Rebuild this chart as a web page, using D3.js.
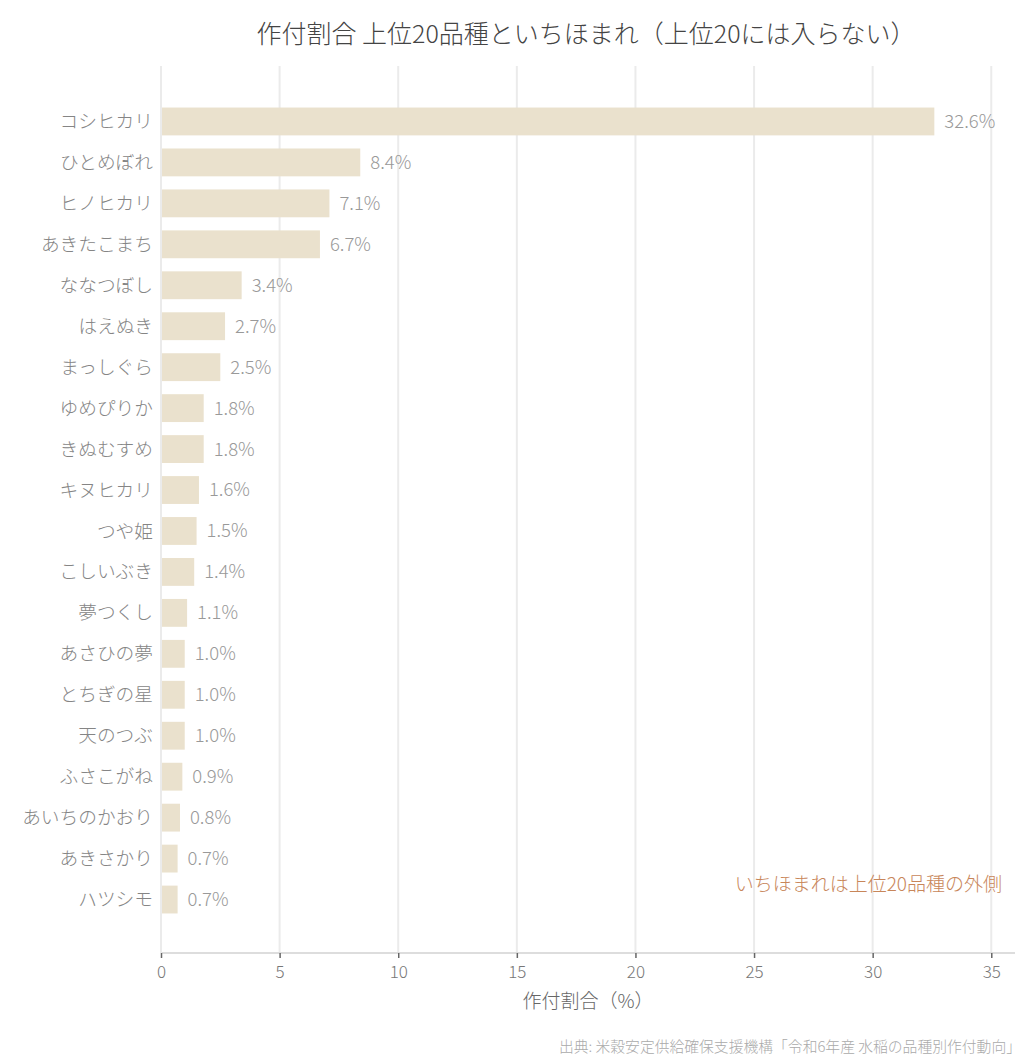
<!DOCTYPE html>
<html><head><meta charset="utf-8">
<script src="https://cdn.jsdelivr.net/npm/d3@7"></script>
<style>
body{margin:0;background:#fff;}
text{font-family:"Noto Sans CJK JP","Noto Sans",sans-serif;font-weight:300;}
</style></head>
<body><svg id="c" width="1036" height="1064"></svg>
<script>
const categories = ["コシヒカリ","ひとめぼれ","ヒノヒカリ","あきたこまち","ななつぼし","はえぬき","まっしぐら","ゆめぴりか","きぬむすめ","キヌヒカリ","つや姫","こしいぶき","夢つくし","あさひの夢","とちぎの星","天のつぶ","ふさこがね","あいちのかおり","あきさかり","ハツシモ"];
const values = [32.6,8.4,7.1,6.7,3.4,2.7,2.5,1.8,1.8,1.6,1.5,1.4,1.1,1.0,1.0,1.0,0.9,0.8,0.7,0.7];
const xTicks = [0,5,10,15,20,25,30,35];
const title = "作付割合 上位20品種といちほまれ（上位20には入らない）";
const xLabel = "作付割合（%）";
const note = "いちほまれは上位20品種の外側";
const source = "出典: 米穀安定供給確保支援機構「令和6年産 水稲の品種別作付動向」";

const svg = d3.select("#c");
const L=161, R=1015, T=66, B=953;
const x = d3.scaleLinear().domain([0,36]).range([L,R]);
const y = d3.scaleBand().domain(categories).range([T+1,B+1]).paddingInner(0.32).paddingOuter(0.99);

svg.append("g").selectAll("line").data(xTicks).join("line")
  .attr("x1",d=>x(d)).attr("x2",d=>x(d)).attr("y1",T).attr("y2",B)
  .attr("stroke","#ebebeb").attr("stroke-width",2);

svg.append("g").selectAll("rect").data(values).join("rect")
  .attr("x",x(0)).attr("y",(d,i)=>y(categories[i]))
  .attr("width",d=>x(d)-x(0)).attr("height",y.bandwidth())
  .attr("fill","#eae1cd");

svg.append("g").selectAll("text").data(values).join("text")
  .attr("x",d=>x(d)+10).attr("y",(d,i)=>y(categories[i])+y.bandwidth()/2)
  .attr("dy","0.35em").attr("font-size",18.5).attr("fill","#999")
  .text(d=>d.toFixed(1)+"%");

svg.append("g").selectAll("text").data(categories).join("text")
  .attr("x",L-8).attr("y",d=>y(d)+y.bandwidth()/2)
  .attr("dy","0.35em").attr("text-anchor","end").attr("font-size",18.7).attr("fill","#858585")
  .text(d=>d);

const ax = svg.append("g").attr("transform",`translate(0,${B})`)
  .call(d3.axisBottom(x).tickValues(xTicks).tickSize(5).tickPadding(8).tickSizeOuter(0));
ax.select(".domain").attr("stroke","#ddd").attr("stroke-width",2).attr("d",`M${L},0H${R}`);
ax.selectAll(".tick line").attr("stroke","#666").attr("stroke-width",1.5);
ax.selectAll(".tick text").attr("font-size",17).attr("fill","#777")
  .attr("font-family","\"Noto Sans CJK JP\",sans-serif").attr("font-weight",300);

svg.append("line").attr("x1",L).attr("x2",L).attr("y1",T).attr("y2",B).attr("stroke","#ebebeb").attr("stroke-width",2);

svg.append("text").attr("x",(L+R)/2).attr("y",1008).attr("text-anchor","middle")
  .attr("font-size",19).attr("fill","#666").text(xLabel);

svg.append("text").attr("x",586).attr("y",43).attr("text-anchor","middle")
  .attr("font-size",25).attr("fill","#444").text(title);

svg.append("text").attr("x",1002).attr("y",891).attr("text-anchor","end")
  .attr("font-size",19).attr("fill","#c8865a").text(note);

svg.append("text").attr("x",1021).attr("y",1052).attr("text-anchor","end")
  .attr("font-size",14.8).attr("fill","#aaa").text(source);
</script></body></html>
